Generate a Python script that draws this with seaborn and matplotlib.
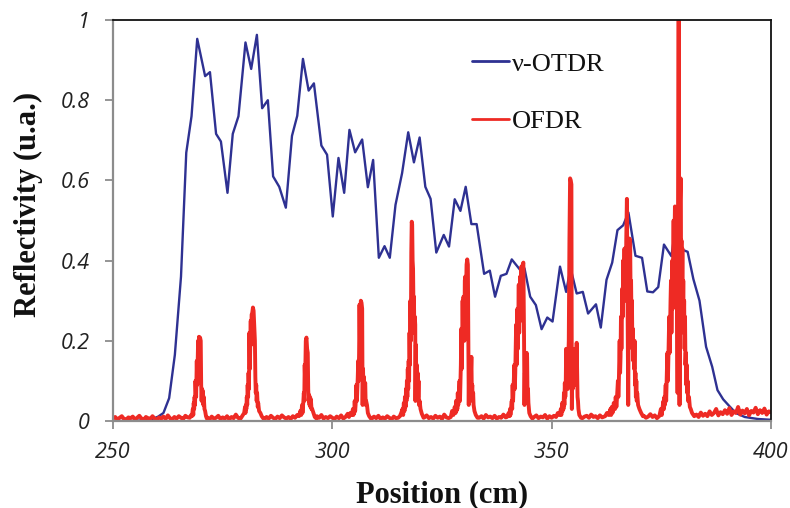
import numpy as np
import pandas as pd
import matplotlib
matplotlib.use("Agg")
import matplotlib.pyplot as plt
import seaborn as sns

# ---- nu-OTDR trace (position in cm, reflectivity) ----
otdr_pos = [250.0, 254.0, 257.7, 259.0, 260.3, 261.5, 262.8, 264.1, 265.5, 266.7,
            267.9, 269.2, 271.0, 272.1, 273.5, 274.6, 276.1, 277.3, 278.6, 280.2,
            281.5, 282.8, 284.0, 285.3, 286.5, 287.9, 289.4, 290.8, 292.0, 293.3,
            294.6, 295.8, 297.5, 298.8, 300.1, 301.4, 302.7, 303.9, 305.2, 306.8,
            308.1, 309.3, 310.6, 311.9, 313.1, 314.4, 315.9, 317.3, 318.6, 319.9,
            321.2, 322.4, 323.7, 325.4, 326.6, 327.9, 329.2, 330.4, 331.7, 332.9,
            334.6, 335.9, 337.1, 338.4, 339.7, 340.9, 342.8, 343.8, 345.1, 346.4,
            347.7, 349.0, 350.2, 351.9, 353.3, 354.3, 355.7, 357.1, 358.3, 360.1,
            361.2, 362.5, 363.8, 365.0, 366.3, 367.5, 369.1, 370.6, 371.8, 373.1,
            374.3, 375.6, 377.3, 378.4, 379.8, 381.0, 382.3, 383.7, 385.2, 386.6,
            387.8, 389.1, 390.6, 392.0, 394.0, 397.0, 400.0]
otdr_val = [0.0, 0.0, 0.002, 0.005, 0.011, 0.02, 0.057, 0.165, 0.36, 0.669,
            0.76, 0.953, 0.86, 0.87, 0.716, 0.697, 0.569, 0.716, 0.76, 0.944,
            0.878, 0.963, 0.78, 0.80, 0.61, 0.584, 0.532, 0.711, 0.761, 0.903,
            0.824, 0.842, 0.687, 0.664, 0.51, 0.656, 0.569, 0.726, 0.67, 0.702,
            0.583, 0.651, 0.407, 0.436, 0.407, 0.539, 0.618, 0.72, 0.645, 0.707,
            0.584, 0.554, 0.42, 0.464, 0.435, 0.553, 0.524, 0.584, 0.491, 0.491,
            0.367, 0.375, 0.31, 0.362, 0.367, 0.403, 0.377, 0.381, 0.31, 0.289,
            0.229, 0.258, 0.248, 0.385, 0.322, 0.382, 0.318, 0.322, 0.268, 0.291,
            0.233, 0.352, 0.395, 0.476, 0.488, 0.52, 0.412, 0.407, 0.323, 0.321,
            0.334, 0.44, 0.411, 0.497, 0.427, 0.422, 0.354, 0.30, 0.185, 0.135,
            0.077, 0.054, 0.036, 0.02, 0.01, 0.005, 0.003]

# ---- OFDR trace: noise floor sampled every 0.5 cm from 250 to 400 cm ----
ofdr_floor = [
    0.006, 0.010, 0.004, 0.008, 0.012, 0.005, 0.003, 0.009, 0.007, 0.011, 0.004, 0.008, 0.013, 0.006, 0.003, 0.010, 0.007, 0.005, 0.012, 0.006,
    0.004, 0.009, 0.006, 0.011, 0.005, 0.014, 0.007, 0.004, 0.010, 0.006, 0.012, 0.008, 0.005, 0.013, 0.009, 0.006, 0.015, 0.008, 0.005, 0.010,
    0.007, 0.012, 0.006, 0.009, 0.004, 0.011, 0.006, 0.008, 0.013, 0.005, 0.009, 0.006, 0.012, 0.004, 0.010, 0.007, 0.016, 0.008, 0.005, 0.011,
    0.006, 0.010, 0.008, 0.014, 0.006, 0.009, 0.005, 0.012, 0.007, 0.004, 0.010, 0.006, 0.013, 0.008, 0.005, 0.011, 0.007, 0.014, 0.009, 0.006,
    0.010, 0.005, 0.012, 0.008, 0.016, 0.006, 0.009, 0.011, 0.007, 0.013, 0.006, 0.009, 0.005, 0.012, 0.008, 0.015, 0.006, 0.010, 0.007, 0.012,
    0.008, 0.005, 0.011, 0.007, 0.014, 0.006, 0.010, 0.018, 0.008, 0.012, 0.006, 0.009, 0.013, 0.007, 0.010, 0.005, 0.012, 0.008, 0.006, 0.011,
    0.007, 0.013, 0.005, 0.009, 0.006, 0.012, 0.008, 0.004, 0.011, 0.007, 0.014, 0.006, 0.009, 0.012, 0.005, 0.010, 0.007, 0.013, 0.008, 0.006,
    0.011, 0.005, 0.009, 0.014, 0.007, 0.010, 0.006, 0.013, 0.008, 0.011, 0.005, 0.016, 0.009, 0.007, 0.012, 0.006, 0.010, 0.014, 0.008, 0.012,
    0.007, 0.011, 0.006, 0.009, 0.013, 0.005, 0.010, 0.008, 0.012, 0.006, 0.015, 0.009, 0.011, 0.007, 0.013, 0.006, 0.010, 0.008, 0.016, 0.009,
    0.012, 0.007, 0.010, 0.014, 0.006, 0.011, 0.008, 0.013, 0.005, 0.009, 0.012, 0.006, 0.010, 0.014, 0.007, 0.011, 0.009, 0.015, 0.006, 0.012,
    0.008, 0.013, 0.006, 0.010, 0.016, 0.007, 0.011, 0.009, 0.014, 0.006, 0.012, 0.008, 0.010, 0.015, 0.007, 0.011, 0.013, 0.008, 0.016, 0.010,
    0.012, 0.007, 0.014, 0.009, 0.011, 0.016, 0.008, 0.013, 0.010, 0.006, 0.015, 0.009, 0.012, 0.018, 0.008, 0.013, 0.010, 0.015, 0.007, 0.012,
    0.016, 0.009, 0.013, 0.008, 0.011, 0.017, 0.010, 0.014, 0.007, 0.012, 0.015, 0.009, 0.013, 0.018, 0.010, 0.014, 0.011, 0.016, 0.008, 0.013,
    0.017, 0.011, 0.014, 0.009, 0.019, 0.012, 0.016, 0.010, 0.021, 0.013, 0.018, 0.012, 0.024, 0.015, 0.020, 0.030, 0.014, 0.022, 0.017, 0.027,
    0.018, 0.032, 0.015, 0.024, 0.020, 0.035, 0.016, 0.026, 0.019, 0.030, 0.014, 0.025, 0.021, 0.033, 0.017, 0.027, 0.020, 0.031, 0.016, 0.024,
    0.022]

# ---- OFDR reflection peaks (position, reflectivity) ----
peak_270 = [(267.5, 0.008), (267.8, 0.015), (268.0, 0.012), (268.2, 0.03), (268.3, 0.015),
            (268.4, 0.045), (268.5, 0.03), (268.6, 0.06), (268.7, 0.04), (268.8, 0.10),
            (268.95, 0.06), (269.1, 0.15), (269.2, 0.09), (269.3, 0.14), (269.4, 0.20),
            (269.5, 0.15), (269.6, 0.21), (269.7, 0.17), (269.85, 0.208), (270.0, 0.20),
            (270.1, 0.09), (270.2, 0.05), (270.3, 0.08), (270.4, 0.06), (270.5, 0.075),
            (270.6, 0.04), (270.7, 0.06), (270.85, 0.03), (271.0, 0.025), (271.2, 0.012),
            (271.4, 0.006)]
peak_282 = [(279.2, 0.008), (279.6, 0.015), (279.9, 0.02), (280.1, 0.035), (280.2, 0.02),
            (280.3, 0.04), (280.4, 0.03), (280.5, 0.06), (280.6, 0.04), (280.7, 0.09),
            (280.8, 0.06), (280.9, 0.12), (281.0, 0.08), (281.1, 0.22), (281.2, 0.13),
            (281.3, 0.20), (281.4, 0.25), (281.5, 0.19), (281.6, 0.265), (281.75, 0.27),
            (281.9, 0.283), (282.05, 0.275), (282.2, 0.24), (282.35, 0.20), (282.45, 0.11),
            (282.55, 0.07), (282.65, 0.09), (282.75, 0.05), (282.85, 0.07), (283.0, 0.035),
            (283.1, 0.045), (283.3, 0.025), (283.6, 0.02), (283.9, 0.012), (284.3, 0.006)]
peak_294 = [(291.5, 0.008), (292.0, 0.015), (292.4, 0.012), (292.7, 0.025), (292.9, 0.015),
            (293.1, 0.04), (293.2, 0.02), (293.3, 0.035), (293.4, 0.05), (293.5, 0.07),
            (293.6, 0.05), (293.7, 0.14), (293.8, 0.10), (293.95, 0.20), (294.1, 0.208),
            (294.25, 0.18), (294.4, 0.17), (294.5, 0.08), (294.6, 0.05), (294.7, 0.065),
            (294.8, 0.04), (294.9, 0.06), (295.0, 0.035), (295.1, 0.055), (295.25, 0.03),
            (295.4, 0.03), (295.7, 0.02), (296.0, 0.01), (296.4, 0.006)]
peak_306 = [(303.8, 0.01), (304.1, 0.02), (304.4, 0.015), (304.7, 0.03), (304.8, 0.015),
            (304.9, 0.025), (305.0, 0.02), (305.1, 0.05), (305.2, 0.025), (305.3, 0.04),
            (305.4, 0.06), (305.5, 0.09), (305.6, 0.05), (305.7, 0.08), (305.8, 0.11),
            (305.9, 0.15), (306.0, 0.10), (306.1, 0.17), (306.2, 0.29), (306.3, 0.20),
            (306.4, 0.27), (306.5, 0.30), (306.65, 0.295), (306.8, 0.28), (306.9, 0.04),
            (307.0, 0.13), (307.1, 0.07), (307.2, 0.11), (307.3, 0.06), (307.4, 0.09),
            (307.5, 0.095), (307.6, 0.04), (307.7, 0.05), (307.9, 0.04), (308.1, 0.02),
            (308.4, 0.012), (308.8, 0.006)]
peak_318 = [(315.0, 0.008), (315.4, 0.012), (315.7, 0.02), (316.0, 0.03), (316.15, 0.015),
            (316.3, 0.045), (316.45, 0.025), (316.55, 0.06), (316.7, 0.035), (316.8, 0.08),
            (316.9, 0.05), (317.0, 0.10), (317.1, 0.06), (317.2, 0.13), (317.3, 0.08),
            (317.4, 0.15), (317.5, 0.10), (317.6, 0.22), (317.7, 0.14), (317.8, 0.30),
            (317.9, 0.20), (318.0, 0.42), (318.1, 0.497), (318.2, 0.49), (318.3, 0.40),
            (318.4, 0.38), (318.5, 0.28), (318.6, 0.31), (318.7, 0.22), (318.8, 0.26),
            (318.9, 0.24), (318.95, 0.05), (319.05, 0.19), (319.15, 0.08), (319.25, 0.14),
            (319.35, 0.07), (319.45, 0.12), (319.55, 0.06), (319.65, 0.10), (319.75, 0.04),
            (319.9, 0.05), (320.1, 0.03), (320.4, 0.018), (320.8, 0.008)]
peak_331 = [(327.0, 0.01), (327.3, 0.025), (327.6, 0.015), (327.9, 0.035), (328.1, 0.02),
            (328.2, 0.05), (328.3, 0.025), (328.4, 0.04), (328.5, 0.03), (328.6, 0.07),
            (328.7, 0.04), (328.8, 0.06), (328.9, 0.08), (329.0, 0.10), (329.1, 0.05),
            (329.2, 0.09), (329.3, 0.14), (329.4, 0.23), (329.5, 0.13), (329.6, 0.20),
            (329.7, 0.30), (329.8, 0.22), (329.9, 0.31), (330.0, 0.28), (330.1, 0.20),
            (330.2, 0.35), (330.3, 0.36), (330.4, 0.27), (330.5, 0.33), (330.6, 0.39),
            (330.75, 0.403), (330.9, 0.39), (331.0, 0.23), (331.1, 0.04), (331.2, 0.15),
            (331.3, 0.09), (331.4, 0.16), (331.5, 0.10), (331.6, 0.12), (331.7, 0.16),
            (331.8, 0.07), (331.9, 0.09), (332.0, 0.05), (332.1, 0.07), (332.2, 0.04),
            (332.4, 0.025), (332.7, 0.015), (333.1, 0.008)]
peak_343 = [(339.8, 0.01), (340.2, 0.02), (340.4, 0.012), (340.5, 0.03), (340.6, 0.015),
            (340.7, 0.025), (340.8, 0.04), (340.9, 0.05), (341.0, 0.03), (341.1, 0.09),
            (341.2, 0.05), (341.3, 0.08), (341.4, 0.11), (341.5, 0.14), (341.6, 0.08),
            (341.7, 0.12), (341.8, 0.18), (341.9, 0.24), (342.0, 0.14), (342.1, 0.20),
            (342.2, 0.28), (342.3, 0.18), (342.4, 0.26), (342.5, 0.34), (342.6, 0.22),
            (342.7, 0.30), (342.8, 0.36), (342.9, 0.25), (343.0, 0.33), (343.1, 0.385),
            (343.2, 0.30), (343.3, 0.37), (343.4, 0.39), (343.55, 0.395), (343.7, 0.21),
            (343.8, 0.04), (343.9, 0.12), (344.0, 0.08), (344.1, 0.15), (344.2, 0.10),
            (344.3, 0.17), (344.4, 0.16), (344.5, 0.06), (344.6, 0.08), (344.7, 0.045),
            (344.9, 0.02), (345.2, 0.012), (345.6, 0.006)]
peak_354 = [(351.0, 0.01), (351.4, 0.02), (351.8, 0.015), (352.1, 0.03), (352.2, 0.015),
            (352.4, 0.045), (352.5, 0.025), (352.6, 0.04), (352.7, 0.03), (352.8, 0.07),
            (352.9, 0.04), (353.0, 0.095), (353.1, 0.06), (353.2, 0.08), (353.3, 0.18),
            (353.4, 0.10), (353.5, 0.17), (353.6, 0.12), (353.7, 0.08), (353.8, 0.16),
            (353.9, 0.20), (354.05, 0.45), (354.2, 0.605), (354.35, 0.60), (354.5, 0.59),
            (354.6, 0.03), (354.7, 0.15), (354.8, 0.08), (354.9, 0.16), (355.0, 0.09),
            (355.1, 0.12), (355.2, 0.18), (355.3, 0.10), (355.4, 0.17), (355.5, 0.15),
            (355.6, 0.09), (355.7, 0.195), (355.8, 0.12), (355.9, 0.06), (356.0, 0.05),
            (356.1, 0.03), (356.3, 0.015), (356.7, 0.008)]
peak_367 = [(362.2, 0.012), (362.6, 0.02), (363.0, 0.015), (363.4, 0.03), (363.55, 0.015),
            (363.7, 0.035), (363.85, 0.02), (364.0, 0.025), (364.15, 0.045), (364.3, 0.04),
            (364.45, 0.03), (364.6, 0.06), (364.75, 0.035), (364.85, 0.05), (365.0, 0.08),
            (365.1, 0.10), (365.2, 0.06), (365.3, 0.09), (365.4, 0.14), (365.5, 0.20),
            (365.6, 0.12), (365.7, 0.16), (365.8, 0.26), (365.9, 0.18), (366.0, 0.25),
            (366.1, 0.33), (366.2, 0.26), (366.3, 0.40), (366.4, 0.30), (366.5, 0.37),
            (366.6, 0.43), (366.7, 0.35), (366.8, 0.42), (366.9, 0.30), (367.0, 0.45),
            (367.15, 0.554), (367.3, 0.30), (367.45, 0.04), (367.6, 0.35), (367.75, 0.455),
            (367.9, 0.44), (368.0, 0.30), (368.1, 0.35), (368.2, 0.25), (368.3, 0.30),
            (368.4, 0.18), (368.5, 0.23), (368.6, 0.15), (368.7, 0.19), (368.8, 0.13),
            (368.9, 0.20), (369.0, 0.09), (369.1, 0.12), (369.2, 0.06), (369.3, 0.10),
            (369.4, 0.05), (369.5, 0.07), (369.7, 0.04), (370.0, 0.03), (370.4, 0.02),
            (370.8, 0.012)]
peak_379 = [(374.6, 0.015), (374.9, 0.03), (375.1, 0.015), (375.2, 0.025), (375.35, 0.04),
            (375.5, 0.05), (375.6, 0.03), (375.7, 0.06), (375.8, 0.04), (375.9, 0.07),
            (376.0, 0.09), (376.1, 0.05), (376.2, 0.10), (376.3, 0.14), (376.4, 0.17),
            (376.5, 0.10), (376.6, 0.15), (376.7, 0.21), (376.8, 0.26), (376.9, 0.17),
            (377.0, 0.24), (377.1, 0.30), (377.2, 0.35), (377.3, 0.22), (377.4, 0.30),
            (377.5, 0.40), (377.6, 0.28), (377.7, 0.38), (377.8, 0.50), (377.9, 0.35),
            (378.0, 0.45), (378.1, 0.535), (378.2, 0.40), (378.3, 0.48), (378.4, 0.43),
            (378.55, 0.36), (378.7, 0.07), (378.85, 0.70), (378.95, 1.0), (379.05, 0.50),
            (379.15, 0.04), (379.3, 0.55), (379.4, 0.605), (379.5, 0.40), (379.6, 0.45),
            (379.7, 0.30), (379.8, 0.43), (379.9, 0.25), (380.0, 0.35), (380.1, 0.22),
            (380.2, 0.30), (380.3, 0.18), (380.4, 0.26), (380.5, 0.14), (380.6, 0.17),
            (380.7, 0.09), (380.8, 0.14), (380.9, 0.07), (381.0, 0.10), (381.1, 0.05),
            (381.3, 0.06), (381.5, 0.035), (381.7, 0.03), (382.0, 0.02)]
ofdr_peaks = [peak_270, peak_282, peak_294, peak_306, peak_318,
              peak_331, peak_343, peak_354, peak_367, peak_379]

x_ticks = [250, 300, 350, 400]
y_ticks = [0, 0.2, 0.4, 0.6, 0.8, 1]
y_tick_labels = ["0", "0.2", "0.4", "0.6", "0.8", "1"]

# assemble the OFDR trace: floor samples outside the peak windows + peak samples
floor_pos = np.linspace(250, 400, len(ofdr_floor))
floor_val = np.array(ofdr_floor)
keep = np.ones(len(floor_pos), dtype=bool)
for pk in ofdr_peaks:
    lo, hi = pk[0][0], pk[-1][0]
    keep &= ~((floor_pos >= lo) & (floor_pos <= hi))
ofdr = pd.DataFrame({"pos": np.concatenate([floor_pos[keep], [p for pk in ofdr_peaks for p, _ in pk]]),
                     "val": np.concatenate([floor_val[keep], [v for pk in ofdr_peaks for _, v in pk]])})
ofdr = ofdr.sort_values("pos").reset_index(drop=True)
otdr = pd.DataFrame({"pos": otdr_pos, "val": otdr_val})

sns.set_style("white")
plt.rcParams["font.family"] = ["DejaVu Sans"]

fig = plt.figure(figsize=(7.9, 5.08), dpi=100)
ax = fig.add_axes([113 / 790, 87 / 508, 658 / 790, 401 / 508])

BLUE = "#2E3192"
RED = "#EE2A24"

sns.lineplot(data=otdr, x="pos", y="val", ax=ax, color=BLUE, linewidth=1.7,
             estimator=None, sort=False, label="\u03bd-OTDR")
sns.lineplot(data=ofdr, x="pos", y="val", ax=ax, color=RED, linewidth=2.8,
             estimator=None, sort=False, label="OFDR")

ax.set_xlim(250, 400)
ax.set_ylim(0, 1)
ax.set_xticks(x_ticks)
ax.set_xticklabels([str(t) for t in x_ticks])
ax.set_yticks(y_ticks)
ax.set_yticklabels(y_tick_labels)

for lab in ax.get_xticklabels() + ax.get_yticklabels():
    lab.set_fontfamily("Open Sans")
    lab.set_fontstyle("italic")
    lab.set_fontsize(15.5)
    lab.set_color("#222222")

ax.tick_params(axis="both", direction="out", length=6, width=1.3, color="#8c8c8c", pad=9,
               bottom=True, left=True, top=False, right=False)
ax.tick_params(axis="y", pad=11)

for side in ("left", "bottom"):
    ax.spines[side].set_color("#8c8c8c")
    ax.spines[side].set_linewidth(1.6)
for side in ("top", "right"):
    ax.spines[side].set_color("#111111")
    ax.spines[side].set_linewidth(1.3)

label_font = dict(family="Liberation Serif", weight="bold", size=22, color="#111111")
ax.set_xlabel("Position (cm)", **label_font)
ax.set_ylabel("Reflectivity (u.a.)", **label_font)
ax.xaxis.set_label_coords(0.5, -0.148)
ax.yaxis.set_label_coords(-0.106, 0.54)

leg = ax.legend(loc="upper left", bbox_to_anchor=(0.5456, 0.92), frameon=False,
                prop={"family": "Liberation Serif", "size": 19},
                handlelength=1.4, handletextpad=0.1, labelspacing=1.3,
                borderpad=0, borderaxespad=0)
for t in leg.get_texts():
    t.set_color("#111111")
for h in leg.get_lines():
    h.set_linewidth(2.0)

fig.savefig("out.png", dpi=100)
